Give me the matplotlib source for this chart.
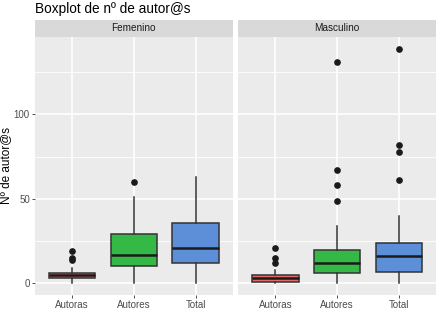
"""
Boxplot de nº de autor@s, faceted by sexo (Femenino / Masculino).
Output: out.png
"""

import matplotlib.pyplot as plt
import matplotlib as mpl

mpl.rcParams.update({
    'font.family': 'Liberation Sans',
    'font.size': 8,
})

panels = ['Femenino', 'Masculino']
categories = ['Autoras', 'Autores', 'Total']
box_colors = ['#E46A6A', '#34B846', '#5D8FD8']

# five-number summaries, per panel, per category
q1 = {'Femenino': [3, 10, 12], 'Masculino': [1, 6, 7]}
med = {'Femenino': [5, 17, 21], 'Masculino': [3, 12, 16]}
q3 = {'Femenino': [6, 29, 36], 'Masculino': [5, 20, 24]}
whislo = {'Femenino': [0, 0, 0], 'Masculino': [0, 0, 0]}
whishi = {'Femenino': [9, 51, 63], 'Masculino': [8, 34, 40]}
outliers = {
    'Femenino': [[19, 15, 14], [60], []],
    'Masculino': [[21, 15, 12], [131, 67, 58, 49], [139, 82, 78, 61]],
}

y_ticks = [0, 50, 100]
y_minor = [25, 75, 125]
y_lim = (-6.95, 145.95)

fig = plt.figure(figsize=(4.37, 3.09), dpi=100)

bottom, top = 0.045, 0.881
strip_h = 0.054
lefts = [0.080, 0.5453]
width = 0.4525

for p, (name, left) in enumerate(zip(panels, lefts)):
    ax = fig.add_axes([left, bottom, width, top - bottom])
    ax.set_facecolor('#EBEBEB')
    for s in ax.spines.values():
        s.set_visible(False)
    for y in y_minor:
        ax.axhline(y, color='white', lw=0.6, zorder=0)
    for y in y_ticks:
        ax.axhline(y, color='white', lw=1.2, zorder=0)
    for x in range(1, len(categories) + 1):
        ax.axvline(x, color='white', lw=1.2, zorder=0)

    stats = []
    for i, cat in enumerate(categories):
        stats.append({
            'med': med[name][i], 'q1': q1[name][i], 'q3': q3[name][i],
            'whislo': whislo[name][i], 'whishi': whishi[name][i],
            'fliers': outliers[name][i], 'label': cat,
        })
    bp = ax.bxp(stats, positions=range(1, len(categories) + 1), widths=0.75,
                patch_artist=True, showcaps=False,
                boxprops=dict(edgecolor='#333333', lw=1.1),
                medianprops=dict(color='#1A1A1A', lw=1.8),
                whiskerprops=dict(color='#333333', lw=1.1),
                flierprops=dict(marker='o', markerfacecolor='#1A1A1A',
                                markeredgecolor='#1A1A1A', markersize=3.8))
    for patch, c in zip(bp['boxes'], box_colors):
        patch.set_facecolor(c)
        patch.set_zorder(2)

    ax.set_xlim(0.4, 3.6)
    ax.set_ylim(*y_lim)
    ax.set_yticks(y_ticks)
    ax.set_xticks(range(1, len(categories) + 1))
    ax.set_xticklabels(categories)
    ax.tick_params(colors='#333333', labelcolor='#4D4D4D', labelsize=7.0,
                   length=2.5, width=0.6, pad=1.2)
    if p == 1:
        ax.set_yticklabels([])
        ax.tick_params(axis='y', length=0)

    strip = fig.add_axes([left, top, width, strip_h])
    strip.set_facecolor('#D9D9D9')
    strip.set_xticks([])
    strip.set_yticks([])
    for s in strip.spines.values():
        s.set_visible(False)
    strip.text(0.5, 0.5, name, ha='center', va='center',
               fontsize=7.2, color='#1A1A1A', transform=strip.transAxes)

fig.text(6 / 437, (bottom + top) / 2, 'Nº de autor@s', rotation=90,
         ha='center', va='center', fontsize=8.5, color='black')
fig.text(0.080, 0.995, 'Boxplot de nº de autor@s', ha='left', va='top',
         fontsize=9.8, color='black')

fig.savefig('out.png', dpi=100)
